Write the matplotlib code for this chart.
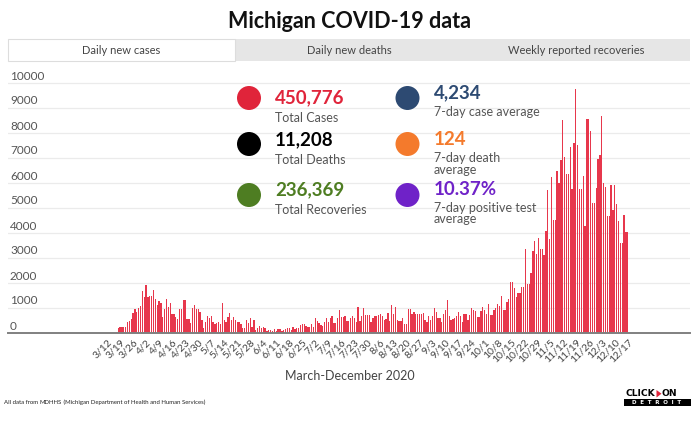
import numpy as np
import pandas as pd
import matplotlib
matplotlib.use("Agg")
import matplotlib.pyplot as plt
from matplotlib.patches import Circle, Rectangle, Polygon
from matplotlib.transforms import IdentityTransform, blended_transform_factory

plt.rcParams['font.family'] = ['Lato', 'DejaVu Sans']

# ---------------- data ----------------
start_date = "2020-03-10"
cases = [
    2, 5, 10, 15, 20, 25, 30, 65,
    225, 240, 240, 240, 240,
    470, 500, 560, 800, 990, 840, 1000, 1110,
    1700, 1440, 1950, 1470, 1500, 1500, 1730, 1390, 1150, 1290, 1210,
    670, 990, 1360, 1070, 1200, 770, 770, 640, 570, 990, 990, 1330, 1330,
    560, 570, 430, 1030, 1130, 970, 970, 870, 530, 200,
    440, 690, 630, 690, 440, 370, 410, 470, 370, 1230,
    520, 470, 660, 800, 520, 660, 520, 440, 470, 380, 220,
    220, 520, 410, 600, 270, 520, 140, 220, 300, 220, 270, 230, 110, 140, 140,
    110, 190, 80, 190, 190, 80, 140, 190, 220, 220, 140, 270, 190, 220, 220, 330, 360, 360,
    300, 250, 250, 380, 270, 600, 490, 410, 330, 300, 470, 630,
    470, 630, 690, 410, 410, 600, 930, 660, 660, 690, 490, 490, 600, 710, 600,
    440, 1070, 490, 690, 1010, 740, 740, 740, 440, 600, 690, 690, 740, 790, 710,
    520, 580, 820, 490, 1120, 770, 1040, 520, 490, 490, 630, 380, 360, 960,
    970, 790, 870, 790, 790, 760, 760, 810, 550, 440, 710, 520, 710,
    1000, 840, 600, 600, 440, 790, 920, 1320, 710, 550, 570, 600, 680,
    840, 680, 470, 760, 760, 520, 730, 1000, 950, 890, 650, 650, 890, 1050, 920,
    790, 1160, 730, 730, 920, 1030, 1190, 1110, 1510, 920, 920, 1240, 1370, 2040, 2040,
    1800, 1470, 1600, 1600, 1870, 1870, 3360, 1970, 1970, 2400, 3280, 3680, 3170, 3810,
    3360, 3360, 3120, 4100, 5730, 3790, 6240, 4530, 4530, 6500, 6000, 6930, 8530, 7070, 6370,
    6370, 7470, 5790, 7600, 9760, 7530, 5790, 5790, 6290, 4290, 8590, 8590, 8080, 5230, 5230,
    5810, 6960, 7150, 8690, 6030, 5840, 4690, 4690, 5920, 4930, 5950, 5170, 4510, 3630, 3630,
    4750, 4070, 4070,
]
tick_start = "2020-03-12"
tick_end = "2020-12-17"
y_ticks = [0, 1000, 2000, 3000, 4000, 5000, 6000, 7000, 8000, 9000, 10000]

tabs = ["Daily new cases", "Daily new deaths", "Weekly reported recoveries"]
stat_values = ["450,776", "11,208", "236,369", "4,234", "124", "10.37%"]
stat_labels = ["Total Cases", "Total Deaths", "Total Recoveries",
               "7-day case average", "7-day death\naverage", "7-day positive test\naverage"]
stat_colors = ["#e0243a", "#000000", "#4e7d22", "#2d4a72", "#f47a2c", "#6f22c8"]

title = "Michigan COVID-19 data"
xlabel = "March-December 2020"

# ---------------- figure ----------------
W, H = 700, 421
fig = plt.figure(figsize=(W / 100, H / 100), dpi=100)
fig.patch.set_facecolor("white")

def fx(x):
    return x / W

def fy(y):
    return 1 - y / H

dates = pd.date_range(start_date, periods=len(cases), freq="D")
days = np.arange(len(cases))
tick_dates = pd.date_range(tick_start, tick_end, freq="7D")
tick_pos = [(d - dates[0]).days for d in tick_dates]
tick_labels = [f"{d.month}/{d.day}" for d in tick_dates]

# axes placement (pixels)
ax_left, ax_right = 8, 690
y0_px, ytop_px = 333.3, 70
ax = fig.add_axes([fx(ax_left), fy(y0_px), (ax_right - ax_left) / W, (y0_px - ytop_px) / H])
px_per_unit = 25 / 1000.0
ax.set_ylim(0, (y0_px - ytop_px) / px_per_unit)
day_px = 1.86
first_px = 103.3
ax.set_xlim((ax_left - first_px) / day_px, (ax_right - first_px) / day_px)

ax.bar(days, cases, width=0.7, color="#e7374c", linewidth=0, zorder=2)

for s in ["top", "right", "left"]:
    ax.spines[s].set_visible(False)
ax.spines["bottom"].set_color("#808080")
ax.spines["bottom"].set_linewidth(1.4)
ax.spines["bottom"].set_zorder(3)

ax.set_yticks(y_ticks)
ax.tick_params(axis="y", length=0, labelleft=False)
ax.yaxis.grid(True, color="#ebebeb", linewidth=0.9)
ax.set_axisbelow(True)

ax.set_xticks(tick_pos)
ax.set_xticklabels(tick_labels, rotation=45, ha="right", va="top",
                   rotation_mode="anchor", fontsize=7.5, color="#444444")
ax.tick_params(axis="x", length=0, pad=3)

trans = blended_transform_factory(ax.transAxes, ax.transData)
for v in y_ticks:
    ax.text(2 / (ax_right - ax_left), v + 7.3 / px_per_unit, str(v), transform=trans,
            ha="left", va="center", fontsize=8.5, color="#555555")

# ---------------- title ----------------
fig.text(0.5, fy(21), title, ha="center", va="center", fontsize=15.5,
         fontweight="bold", color="#111111")

# ---------------- tabs ----------------
idt = IdentityTransform()
tab_top, tab_bot = 39, 61
tab_edges = [8, 235, 463, 690]
fig.add_artist(Rectangle((tab_edges[1], H - tab_bot), tab_edges[3] - tab_edges[1],
                         tab_bot - tab_top, transform=idt, facecolor="#e6e6e6",
                         edgecolor="none"))
fig.add_artist(Rectangle((tab_edges[0], H - tab_bot), tab_edges[1] - tab_edges[0],
                         tab_bot - tab_top, transform=idt, facecolor="white",
                         edgecolor="#dddddd", linewidth=0.8))
for i, t in enumerate(tabs):
    cx = (tab_edges[i] + tab_edges[i + 1]) / 2
    fig.text(fx(cx), fy(50), t, ha="center", va="center", fontsize=8,
             color="#444444")

# ---------------- stats panel ----------------
circ_x = [249, 249, 249, 407.5, 407.5, 407.5]
circ_y = [98, 144, 195, 98, 144, 195]
val_y = [97.5, 139.5, 190, 92.5, 139.5, 190]
lab_y = [118.5, 160, 210.5, 111.5, 158.5, 208.5]
line_gap = 11
for i in range(6):
    fig.add_artist(Circle((circ_x[i], H - circ_y[i]), 12, transform=idt,
                          facecolor=stat_colors[i], edgecolor="none"))
    tx = circ_x[i] + 26
    fig.text(fx(tx), fy(val_y[i]), stat_values[i], ha="left", va="center",
             fontsize=13.5, fontweight="bold", color=stat_colors[i])
    for j, line in enumerate(stat_labels[i].split("\n")):
        fig.text(fx(tx), fy(lab_y[i] + j * line_gap), line, ha="left", va="center",
                 fontsize=9, color="#555555")

# ---------------- axis label & footer ----------------
fig.text(0.5, fy(376), xlabel, ha="center", va="center", fontsize=9, color="#444444")

foot_y = fy(402)
t1 = fig.text(fx(4), foot_y, "All data from ", ha="left", va="center", fontsize=4.3, color="#222222")
fig.canvas.draw()
r = fig.canvas.get_renderer()
bb = t1.get_window_extent(r)
t2 = fig.text(bb.x1 / W, foot_y, "MDHHS", ha="left", va="center", fontsize=4.3,
              color="#222222")
bb2 = t2.get_window_extent(r)
fig.add_artist(Rectangle((bb2.x0, bb2.y0 + 0.5), bb2.width, 0.5, transform=idt,
                         facecolor="#222222", edgecolor="none"))
fig.text(bb2.x1 / W, foot_y, " (Michigan Department of Health and Human Services)",
         ha="left", va="center", fontsize=4.3, color="#222222")

# logo
fig.text(fx(626), fy(393.5), "CLICK", ha="left", va="center", fontsize=6.6,
         fontweight="heavy", family="DejaVu Sans", color="black")
fig.add_artist(Polygon([[656.5, H - 390], [656.5, H - 397.5], [661.5, H - 393.7]],
                       closed=True, transform=idt, facecolor="#e0243a", edgecolor="none"))
fig.text(fx(662), fy(393.5), "ON", ha="left", va="center", fontsize=6.6,
         fontweight="heavy", family="DejaVu Sans", color="black")
fig.add_artist(Rectangle((624, H - 406), 66.5, 7, transform=idt, facecolor="black",
                         edgecolor="none"))
fig.text(fx(657), fy(402.5), "D  E  T  R  O  I  T", ha="center", va="center",
         fontsize=4, fontweight="bold", family="DejaVu Sans", color="white")

fig.savefig("out.png", dpi=100, facecolor="white")
